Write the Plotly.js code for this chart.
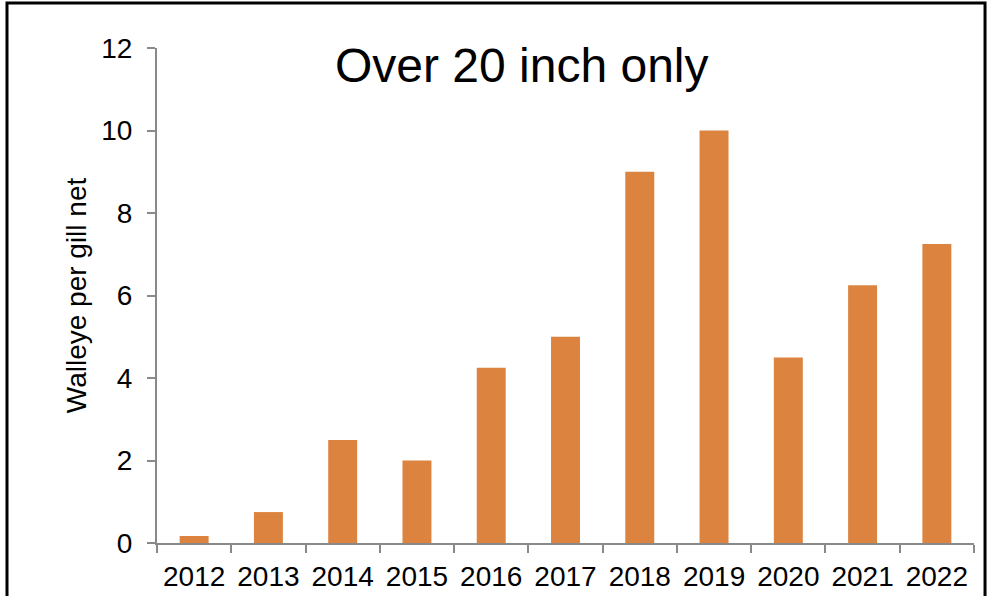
<!DOCTYPE html>
<html>
<head>
<meta charset="utf-8">
<script src="https://cdn.plot.ly/plotly-3.0.1.min.js"></script>
<style>
html,body{margin:0;padding:0;background:#fff;}
#chart{width:988px;height:596px;}
</style>
</head>
<body>
<div id="chart"></div>
<script>
const years = ["2012","2013","2014","2015","2016","2017","2018","2019","2020","2021","2022"];
const walleyePerNet = [0.17, 0.75, 2.5, 2.0, 4.25, 5.0, 9.0, 10.0, 4.5, 6.25, 7.25];
const yTicks = [0, 2, 4, 6, 8, 10, 12];
const chartTitle = "Over 20 inch only";
const yTitle = "Walleye per gill net";

const FONT = "Liberation Sans, Arial, Helvetica, sans-serif";
const AXIS_GREY = "#898989";

const trace = {
  type: "bar",
  x: years,
  y: walleyePerNet,
  marker: {color: "#DC843F", line: {width: 0}},
  hoverinfo: "x+y"
};

const layout = {
  width: 988,
  height: 596,
  margin: {l: 157, r: 14, t: 48, b: 53, pad: 0},
  paper_bgcolor: "#ffffff",
  plot_bgcolor: "#ffffff",
  showlegend: false,
  bargap: 0.61,
  font: {family: FONT, color: "#000000"},
  xaxis: {
    type: "category",
    range: [-0.5, years.length - 0.5],
    showgrid: false,
    zeroline: false,
    showline: true,
    linecolor: AXIS_GREY,
    linewidth: 2,
    ticks: "outside",
    tickson: "boundaries",
    ticklen: 8,
    tickwidth: 2,
    tickcolor: AXIS_GREY,
    ticklabelstandoff: 7,
    tickfont: {family: FONT, size: 28, color: "#000"},
    fixedrange: true
  },
  yaxis: {
    range: [0, 12],
    tickvals: yTicks,
    ticktext: yTicks.map(String),
    showgrid: false,
    zeroline: false,
    showline: true,
    linecolor: AXIS_GREY,
    linewidth: 2,
    ticks: "outside",
    ticklen: 8,
    tickwidth: 2,
    tickcolor: AXIS_GREY,
    ticklabelstandoff: 9,
    tickfont: {family: FONT, size: 28, color: "#000"},
    title: {text: yTitle, font: {family: FONT, size: 28, color: "#000"}, standoff: 6},
    fixedrange: true
  },
  annotations: [{
    text: chartTitle,
    xref: "paper", yref: "paper",
    x: 0.447, y: 0.965,
    xanchor: "center", yanchor: "middle",
    showarrow: false,
    font: {family: FONT, size: 48, color: "#000"}
  }],
  shapes: [{
    type: "rect",
    xref: "paper", yref: "paper",
    x0: -0.1836, x1: 1.0135,
    y0: -0.4, y1: 1.0909,
    line: {color: "#000000", width: 3},
    fillcolor: "rgba(0,0,0,0)",
    layer: "above"
  }]
};

Plotly.newPlot("chart", [trace], layout, {displayModeBar: false, staticPlot: true});
</script>
</body>
</html>
